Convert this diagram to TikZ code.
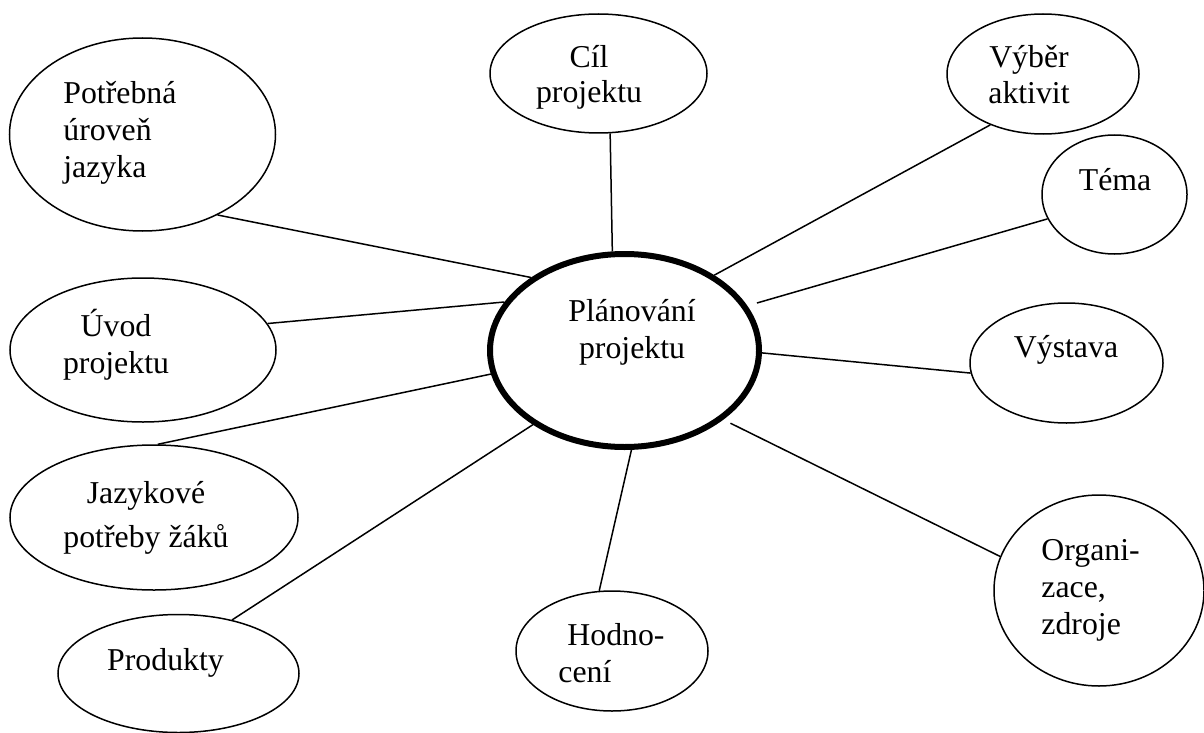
\documentclass[tikz,border=0pt]{standalone}
\usepackage{fontspec}
\setmainfont{Liberation Serif}
\usetikzlibrary{shapes.geometric}
\begin{document}
\begin{tikzpicture}[x=0.5pt,y=-0.5pt,
    bubble/.style={draw,ellipse,line width=0.75pt,inner sep=0pt},
    hub/.style={draw,ellipse,line width=3pt,inner sep=0pt},
    txt/.style={inner sep=0pt,font=\fontsize{15.9pt}{18.5pt}\selectfont},
    spoke/.style={line width=0.75pt}]
    \useasboundingbox (0,0) rectangle (1204,733);

    % Hub
    \node[hub,minimum width=134.5pt,minimum height=96.5pt]
        (plan) at (624.5,350.5) {};
    \node[txt,align=center,anchor=base] (plantext)
        at (632,358) {Plánování\\projektu};

    % Bubbles top and right
    \node[bubble,minimum width=108.5pt,minimum height=59.5pt]
        (cil) at (598.5,73.5) {};
    \node[txt,align=center,anchor=base,
        font=\fontsize{15.9pt}{17.5pt}\selectfont] (ciltext)
        at (589,103) {Cíl\\projektu};
    %
    \node[bubble,minimum width=96pt,minimum height=60pt]
        (vyber) at (1043,74) {};
    \node[txt,align=center,anchor=base,
        font=\fontsize{15.9pt}{18pt}\selectfont] (vybertext)
        at (1029,104) {Výběr\\aktivit};
    %
    \node[bubble,minimum width=72.5pt,minimum height=59.5pt]
        (tema) at (1114.5,194.5) {};
    \node[txt,anchor=base] (tematext) at (1115,190) {Téma};
    %
    \node[bubble,minimum width=96.5pt,minimum height=60pt]
        (vystava) at (1066.5,363) {};
    \node[txt,anchor=base] (vystavatext) at (1066,357) {Výstava};
    %
    \node[bubble,minimum width=105pt,minimum height=95.5pt]
        (organizace) at (1099,590.5) {};
    \node[txt,align=left,anchor=base west] (organizacetext)
        at (1041,634) {Organi-\\zace,\\zdroje};

    % Bubbles bottom and left
    \node[bubble,minimum width=96pt,minimum height=60pt]
        (hodnoceni) at (612,651) {};
    \node[txt,align=left,anchor=base west] (hodnocenitext)
        at (558,682) {\hspace*{4.5pt}Hodno-\\cení};
    %
    \node[bubble,minimum width=120.5pt,minimum height=59pt]
        (produkty) at (178.5,673.5) {};
    \node[txt,anchor=base] (produktytext) at (165.5,670) {Produkty};
    %
    \node[bubble,minimum width=144pt,minimum height=72.5pt]
        (jazykove) at (154,517.5) {};
    \node[txt,align=center,anchor=base,
        font=\fontsize{15.9pt}{22pt}\selectfont] (jazykovetext)
        at (146,547) {Jazykové\\potřeby žáků};
    %
    \node[bubble,minimum width=133pt,minimum height=72pt]
        (uvod) at (143,350) {};
    \node[txt,align=center,anchor=base] (uvodtext)
        at (116,373) {Úvod\\projektu};
    %
    \node[bubble,minimum width=133pt,minimum height=96.5pt]
        (potrebna) at (142.5,134.5) {};
    \node[txt,align=left,anchor=base west] (potrebnatext)
        at (63,177) {Potřebná\\úroveň\\jazyka};

    % Spokes
    \draw[spoke] (plan.97.7) -- (cil.281.9);
    \draw[spoke] (plan.40.6) -- (vyber.224.5);
    \draw[spoke,shorten <=5pt] (plan.20.4) -- (tema.200.2);
    \draw[spoke] (plan.359.4) -- (vystava.186.6);
    \draw[spoke,shorten <=4pt] (plan.325.9) -- (organizace.161.3);
    \draw[spoke] (plan.274.9) -- (hodnoceni.102.2);
    \draw[spoke] (plan.219.9) -- (produkty.45);
    \draw[spoke] (plan.190.3) -- (jazykove.87.6);
    \draw[spoke] (plan.158.6) -- (uvod.12.9);
    \draw[spoke] (plan.142.1) -- (potrebna.313.5);
\end{tikzpicture}
\end{document}
